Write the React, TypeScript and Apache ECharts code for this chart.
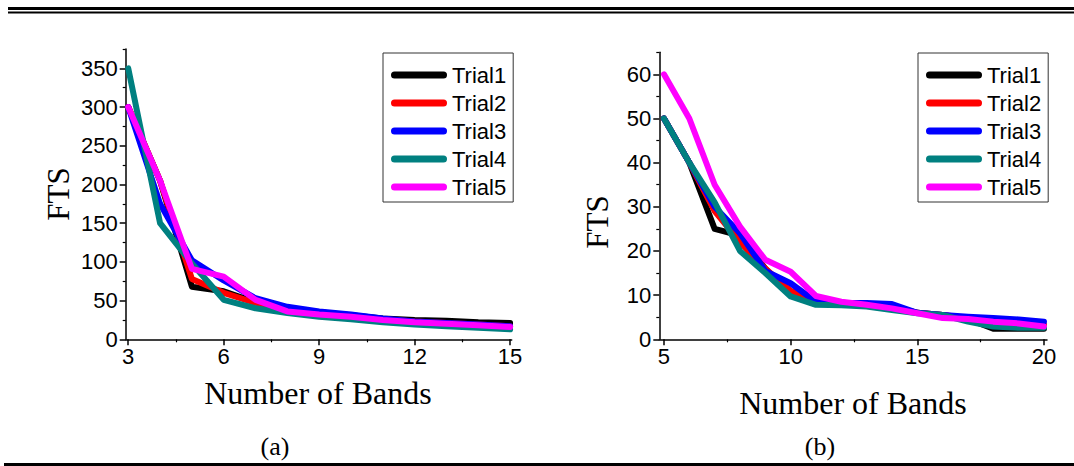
import React, { useEffect, useRef } from "react";
import * as echarts from "echarts";

// ---------- data ----------
const trialNames = ["Trial1", "Trial2", "Trial3", "Trial4", "Trial5"];
const trialColors = ["#000000", "#ff0000", "#0000ff", "#008080", "#ff00ff"];

// (a)
const bandsA = [3, 4, 5, 6, 7, 8, 9, 10, 11, 12, 13, 14, 15];
const a1 = [300, 205, 68, 62, 48, 40, 35, 31, 27, 25, 24, 22, 21];
const a2 = [300, 205, 78, 60, 47, 39, 34, 30, 26, 23, 21, 19, 17];
const a3 = [300, 175, 102, 76, 53, 42, 36, 32, 27, 23, 21, 19, 17];
const a4 = [350, 150, 98, 51, 40, 34, 29, 26, 22, 19, 17, 15, 13];
const a5 = [300, 205, 91, 81, 51, 36, 32, 29, 25, 22, 20, 18, 16];
const ticksA = [3, 6, 9, 12, 15];
const minorTicksA = [4.5, 7.5, 10.5, 13.5];
const yTicksA = [0, 50, 100, 150, 200, 250, 300, 350];
const yMinorA = [25, 75, 125, 175, 225, 275, 325, 375];

// (b)
const bandsB = [5, 6, 7, 8, 9, 10, 11, 12, 13, 14, 15, 16, 17, 18, 19, 20];
const b1 = [50, 40, 25, 23.5, 16, 10, 8.5, 8.3, 8, 7.5, 6, 5.5, 4.6, 2.4, 2.4, 2.4];
const b2 = [50, 40, 29, 22, 16, 11, 8.8, 8.3, 8, 7.5, 6, 5.5, 4.8, 4.3, 3.8, 3.3];
const b3 = [50, 40, 30, 24, 15.5, 12.7, 8.5, 8.2, 8.2, 8, 6, 5.5, 5.1, 4.8, 4.5, 4];
const b4 = [50, 40, 31, 20, 15, 9.7, 7.8, 7.7, 7.4, 6.6, 5.9, 5.5, 4, 2.9, 2.6, 2.6];
const b5 = [60, 50, 35, 25.5, 18, 15.3, 9.8, 8.5, 7.8, 7, 5.9, 4.8, 4.6, 4, 3.6, 2.9];
const ticksB = [5, 10, 15, 20];
const minorTicksB = [7.5, 12.5, 17.5];
const yTicksB = [0, 10, 20, 30, 40, 50, 60];
const yMinorB = [5, 15, 25, 35, 45, 55, 65];

const seriesA = [a1, a2, a3, a4, a5];
const seriesB = [b1, b2, b3, b4, b5];

const SANS = "'Liberation Sans', Arial, sans-serif";
const SERIF = "'Liberation Serif', 'Times New Roman', serif";

const legendIcon =
  "path://M3.5,0 L52.5,0 A3.5,3.5 0 0 1 52.5,7 L3.5,7 A3.5,3.5 0 0 1 3.5,0 Z";

function mainX(grid: number, min: number, max: number, ticks: number[]) {
  return {
    type: "value",
    gridIndex: grid,
    min,
    max,
    position: "bottom",
    splitLine: { show: false },
    axisLine: { show: true, onZero: false, lineStyle: { color: "#000", width: 1.5 } },
    axisTick: { show: true, customValues: ticks, length: 6, lineStyle: { color: "#000", width: 1.5 } },
    axisLabel: { show: true, customValues: ticks, fontSize: 22, fontFamily: SANS, color: "#000", margin: 6 },
  };
}
function minorX(grid: number, min: number, max: number, ticks: number[]) {
  return {
    type: "value",
    gridIndex: grid,
    min,
    max,
    position: "bottom",
    splitLine: { show: false },
    axisLine: { show: false, onZero: false },
    axisTick: { show: true, customValues: ticks, length: 3, lineStyle: { color: "#000", width: 1.2 } },
    axisLabel: { show: false },
  };
}
function mainY(grid: number, min: number, max: number, ticks: number[]) {
  return {
    type: "value",
    gridIndex: grid,
    min,
    max,
    position: "left",
    splitLine: { show: false },
    axisLine: { show: true, onZero: false, lineStyle: { color: "#000", width: 1.5 } },
    axisTick: { show: true, customValues: ticks, length: 6, lineStyle: { color: "#000", width: 1.5 } },
    axisLabel: { show: true, customValues: ticks, fontSize: 22, fontFamily: SANS, color: "#000", margin: 8 },
  };
}
function minorY(grid: number, min: number, max: number, ticks: number[]) {
  return {
    type: "value",
    gridIndex: grid,
    min,
    max,
    position: "left",
    splitLine: { show: false },
    axisLine: { show: false, onZero: false },
    axisTick: { show: true, customValues: ticks, length: 3, lineStyle: { color: "#000", width: 1.2 } },
    axisLabel: { show: false },
  };
}

function makeLegend(left: number) {
  return {
    data: trialNames,
    orient: "vertical",
    left,
    top: 53,
    padding: [11, 7, 4, 8],
    itemWidth: 56,
    itemHeight: 7,
    itemGap: 6,
    icon: legendIcon,
    borderColor: "#333",
    borderWidth: 1,
    backgroundColor: "#fff",
    itemStyle: { borderWidth: 0 },
    textStyle: { fontSize: 22, fontFamily: SANS, color: "#000" },
    selectedMode: false,
  };
}

function lineSeries(xs: number[], ys: number[], i: number, axisIdx: number) {
  return {
    type: "line",
    name: trialNames[i],
    xAxisIndex: axisIdx,
    yAxisIndex: axisIdx,
    data: xs.map((x, k) => [x, ys[k]]),
    showSymbol: false,
    symbol: "none",
    color: trialColors[i],
    lineStyle: { color: trialColors[i], width: 6, cap: "round", join: "round" },
    emphasis: { disabled: true },
    z: 2 + i,
  };
}

function txt(x: number, y: number, text: string, size: number, family: string, rotation = 0) {
  return {
    type: "text",
    x,
    y,
    rotation,
    style: {
      text,
      fontSize: size,
      fontFamily: family,
      fill: "#000",
      align: "center",
      verticalAlign: "middle",
      textAlign: "center",
      textVerticalAlign: "middle",
    },
  };
}

export default function App() {
  const ref = useRef<HTMLDivElement>(null);
  useEffect(() => {
    document.body.style.margin = "0";
    const chart = echarts.init(ref.current!, null, { renderer: "svg" });
    const option: any = {
      animation: false,
      backgroundColor: "#fff",
      grid: [
        { left: 125.7, top: 49, width: 386, height: 290.3, containLabel: false, outerBoundsMode: "none" },
        { left: 659.3, top: 52.2, width: 387.7, height: 287.1, containLabel: false, outerBoundsMode: "none" },
      ],
      xAxis: [
        mainX(0, 2.92, 15.05, ticksA),
        minorX(0, 2.92, 15.05, minorTicksA),
        mainX(1, 4.815, 20.12, ticksB),
        minorX(1, 4.815, 20.12, minorTicksB),
      ],
      yAxis: [
        mainY(0, 0, 375, yTicksA),
        minorY(0, 0, 375, yMinorA),
        mainY(1, 0, 65, yTicksB),
        minorY(1, 0, 65, yMinorB),
      ],
      legend: [makeLegend(383), makeLegend(918)],
      series: [
        ...seriesA.map((ys, i) => lineSeries(bandsA, ys, i, 0)),
        ...seriesB.map((ys, i) => lineSeries(bandsB, ys, i, 2)),
      ],
      graphic: [
        { type: "rect", shape: { x: 8, y: 7, width: 1066, height: 3 }, style: { fill: "#000" } },
        { type: "rect", shape: { x: 8, y: 11.5, width: 1066, height: 2 }, style: { fill: "#000" } },
        { type: "rect", shape: { x: 4, y: 463, width: 1070, height: 3 }, style: { fill: "#000" } },
        txt(58, 194, "FTS", 31, SERIF, Math.PI / 2),
        txt(597, 222, "FTS", 31, SERIF, Math.PI / 2),
        txt(318, 393, "Number of Bands", 32, SERIF),
        txt(853, 403, "Number of Bands", 32, SERIF),
        txt(275, 446, "(a)", 26, SERIF),
        txt(820, 446, "(b)", 26, SERIF),
      ],
    };
    chart.setOption(option);
    return () => chart.dispose();
  }, []);
  return <div ref={ref} style={{ width: 1074, height: 466 }} />;
}
